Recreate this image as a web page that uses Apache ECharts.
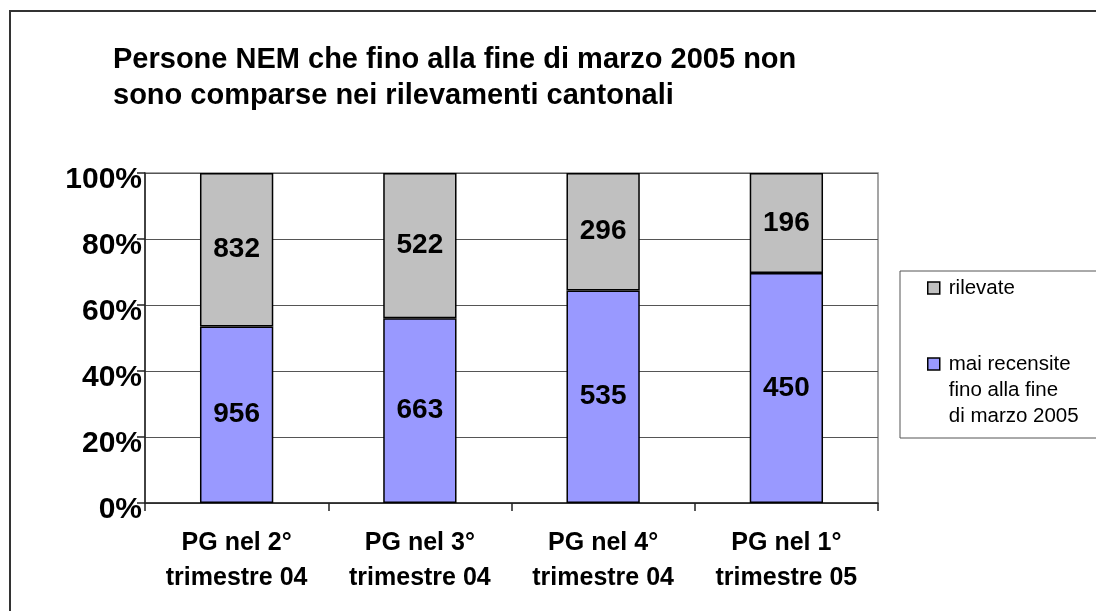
<!DOCTYPE html>
<html>
<head>
<meta charset="utf-8">
<script src="https://cdn.jsdelivr.net/npm/echarts@6/dist/echarts.min.js"></script>
<style>
  html, body { margin: 0; padding: 0; background: #fff; }
  #main { width: 1096px; height: 611px; }
</style>
</head>
<body>
<div id="main"></div>
<script>
// categorie e valori assoluti
var categorie = ['PG nel 2°\ntrimestre 04', 'PG nel 3°\ntrimestre 04', 'PG nel 4°\ntrimestre 04', 'PG nel 1°\ntrimestre 05'];
var maiRecensite = [956, 663, 535, 450];
var rilevate = [832, 522, 296, 196];
var yTicks = [0, 20, 40, 60, 80, 100];

var font = 'Liberation Sans, Arial, sans-serif';

// percentuali per il grafico 100% in pila
function perc(a, b) {
  return a.map(function (v, i) { return v / (a[i] + b[i]) * 100; });
}
var percMai = perc(maiRecensite, rilevate);
var percRil = perc(rilevate, maiRecensite);

var myChart = echarts.init(document.getElementById('main'));

var option = {
  animation: false,
  backgroundColor: '#fff',
  title: {
    text: 'Persone NEM che fino alla fine di marzo 2005 non\nsono comparse nei rilevamenti cantonali',
    left: 113,
    top: 42,
    padding: 0,
    textStyle: {
      fontFamily: font,
      fontSize: 29,
      fontWeight: 'bold',
      color: '#000',
      lineHeight: 36
    }
  },
  graphic: [{
    type: 'rect',
    shape: { x: 10, y: 11, width: 1200, height: 700 },
    style: { fill: 'none', stroke: '#333', lineWidth: 2 },
    silent: true
  }],
  legend: {
    orient: 'vertical',
    left: 900,
    top: 271,
    padding: [4, 18, 9, 27],
    itemGap: -2,
    itemWidth: 12,
    itemHeight: 12,
    icon: 'rect',
    borderColor: '#555',
    borderWidth: 1,
    data: [
      { name: 'rilevate', itemStyle: { color: '#C0C0C0', borderColor: '#000', borderWidth: 1.5 } },
      { name: 'mai recensite', itemStyle: { color: '#9999FF', borderColor: '#000', borderWidth: 1.5 } }
    ],
    formatter: function (name) {
      if (name === 'mai recensite') {
        return '\n\nmai recensite\nfino alla fine\ndi marzo 2005';
      }
      return name;
    },
    textStyle: {
      fontFamily: font,
      fontSize: 20.5,
      color: '#000',
      lineHeight: 26,
      padding: [0, 0, 0, 4]
    }
  },
  grid: {
    left: 145,
    top: 173,
    right: 218,
    bottom: 108,
    show: true,
    borderColor: '#888',
    borderWidth: 1.5
  },
  xAxis: {
    type: 'category',
    data: categorie,
    axisLine: { lineStyle: { color: '#222', width: 1.5 } },
    axisTick: { show: true, interval: 0, length: 8, lineStyle: { color: '#222', width: 1.5 } },
    axisLabel: {
      interval: 0,
      margin: 23,
      fontFamily: font,
      fontSize: 25,
      fontWeight: 'bold',
      color: '#000',
      lineHeight: 35
    }
  },
  yAxis: {
    type: 'value',
    min: yTicks[0],
    max: yTicks[yTicks.length - 1],
    interval: yTicks[1] - yTicks[0],
    axisLine: { show: true, lineStyle: { color: '#222', width: 1.5 } },
    axisTick: { show: true, length: 8, lineStyle: { color: '#222', width: 1.5 } },
    splitLine: { lineStyle: { color: '#555', width: 1.2 } },
    axisLabel: {
      margin: 3,
      formatter: '{value}%',
      fontFamily: font,
      fontSize: 30,
      fontWeight: 'bold',
      color: '#000',
      verticalAlign: 'top',
      lineHeight: 13
    }
  },
  series: [
    {
      name: 'mai recensite',
      type: 'bar',
      stack: 'tot',
      barWidth: '40%',
      data: percMai,
      itemStyle: { color: '#9999FF', borderColor: '#000', borderWidth: 1.5 },
      label: {
        show: true,
        position: 'inside',
        formatter: function (p) { return maiRecensite[p.dataIndex]; },
        fontFamily: font,
        fontSize: 28,
        fontWeight: 'bold',
        color: '#000'
      }
    },
    {
      name: 'rilevate',
      type: 'bar',
      stack: 'tot',
      barWidth: '40%',
      data: percRil,
      itemStyle: { color: '#C0C0C0', borderColor: '#000', borderWidth: 1.5 },
      label: {
        show: true,
        position: 'inside',
        formatter: function (p) { return rilevate[p.dataIndex]; },
        fontFamily: font,
        fontSize: 28,
        fontWeight: 'bold',
        color: '#000'
      }
    }
  ]
};

myChart.setOption(option);
</script>
</body>
</html>
